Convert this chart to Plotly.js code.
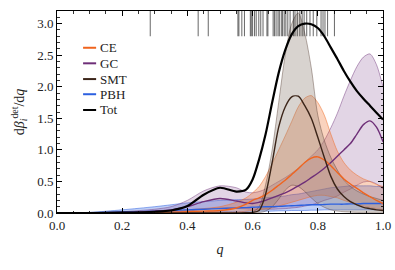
<!DOCTYPE html>
<html>
<head>
<meta charset="utf-8">
<script src="https://cdn.plot.ly/plotly-3.0.1.min.js"></script>
<style>html,body{margin:0;padding:0;background:#fff;}#chart{width:395px;height:270px;}</style>
</head>
<body>
<div id="chart"></div>
<script>
// ---- data ----
var qGrid = [0, 0.1, 0.2, 0.3, 0.35, 0.4, 0.45, 0.5, 0.55, 0.58, 0.6, 0.62, 0.64, 0.66, 0.68, 0.7, 0.72, 0.74, 0.76, 0.78, 0.8, 0.82, 0.84, 0.86, 0.88, 0.9, 0.92, 0.94, 0.96, 0.98, 1.0];

var totMed = [0, 0, 0.005, 0.02, 0.04, 0.11, 0.29, 0.40, 0.34, 0.37, 0.53, 0.85, 1.25, 1.75, 2.22, 2.58, 2.83, 2.96, 3.0, 2.99, 2.93, 2.8, 2.62, 2.44, 2.25, 2.08, 1.93, 1.81, 1.7, 1.59, 1.48];

var smtMed = [0, 0, 0, 0, 0, 0, 0, 0, 0, 0.005, 0.01, 0.04, 0.3, 0.8, 1.36, 1.68, 1.84, 1.85, 1.7, 1.5, 1.2, 0.88, 0.58, 0.38, 0.26, 0.18, 0.13, 0.09, 0.07, 0.05, 0.04];
var smtHi  = [0, 0, 0, 0, 0, 0, 0, 0, 0, 0.01, 0.02, 0.1, 0.45, 1.0, 1.75, 2.5, 3.0, 3.17, 2.85, 2.3, 1.55, 1.15, 0.88, 0.68, 0.52, 0.42, 0.35, 0.3, 0.26, 0.23, 0.2];
var smtLo  = [0, 0, 0, 0, 0, 0, 0, 0, 0, 0, 0, 0.005, 0.03, 0.1, 0.22, 0.36, 0.44, 0.42, 0.34, 0.24, 0.15, 0.09, 0.05, 0.03, 0.02, 0.015, 0.01, 0.01, 0.01, 0.01, 0.01];

var ceMed = [0, 0, 0, 0.01, 0.01, 0.02, 0.03, 0.04, 0.08, 0.14, 0.2, 0.24, 0.29, 0.36, 0.44, 0.52, 0.61, 0.7, 0.8, 0.87, 0.89, 0.84, 0.75, 0.64, 0.54, 0.46, 0.39, 0.32, 0.26, 0.2, 0.15];
var ceHi  = [0, 0, 0.01, 0.02, 0.03, 0.05, 0.07, 0.1, 0.17, 0.24, 0.32, 0.42, 0.58, 0.78, 1.0, 1.22, 1.45, 1.68, 1.82, 1.86, 1.75, 1.55, 1.25, 0.98, 0.8, 0.68, 0.6, 0.54, 0.5, 0.45, 0.42];
var ceLo  = [0, 0, 0, 0, 0, 0, 0, 0, 0.01, 0.03, 0.04, 0.05, 0.07, 0.08, 0.11, 0.14, 0.17, 0.2, 0.23, 0.26, 0.28, 0.28, 0.26, 0.24, 0.2, 0.17, 0.14, 0.11, 0.09, 0.07, 0.05];

var gcMed = [0, 0, 0.01, 0.03, 0.05, 0.1, 0.18, 0.23, 0.19, 0.16, 0.15, 0.17, 0.2, 0.24, 0.28, 0.32, 0.37, 0.43, 0.49, 0.56, 0.63, 0.71, 0.8, 0.9, 1.0, 1.1, 1.25, 1.4, 1.46, 1.36, 1.13];
var gcHi  = [0, 0.005, 0.02, 0.06, 0.1, 0.2, 0.35, 0.43, 0.4, 0.33, 0.32, 0.34, 0.38, 0.44, 0.5, 0.56, 0.63, 0.71, 0.8, 0.9, 1.0, 1.15, 1.35, 1.58, 1.85, 2.1, 2.32, 2.47, 2.52, 2.35, 2.0];
var gcLo  = [0, 0, 0, 0.01, 0.02, 0.03, 0.06, 0.08, 0.07, 0.065, 0.06, 0.06, 0.06, 0.06, 0.065, 0.07, 0.08, 0.09, 0.11, 0.13, 0.16, 0.2, 0.23, 0.27, 0.33, 0.38, 0.44, 0.49, 0.5, 0.46, 0.38];

var pbhMed = [0, 0.002, 0.015, 0.03, 0.04, 0.05, 0.06, 0.07, 0.08, 0.085, 0.09, 0.095, 0.1, 0.1, 0.105, 0.11, 0.115, 0.12, 0.125, 0.13, 0.13, 0.135, 0.14, 0.14, 0.14, 0.145, 0.145, 0.15, 0.15, 0.15, 0.15];
var pbhHi  = [0, 0.01, 0.05, 0.1, 0.13, 0.16, 0.18, 0.2, 0.21, 0.215, 0.22, 0.23, 0.24, 0.25, 0.26, 0.27, 0.29, 0.3, 0.32, 0.34, 0.36, 0.38, 0.4, 0.41, 0.42, 0.43, 0.43, 0.43, 0.43, 0.42, 0.42];
var pbhLo  = [0, 0, 0.005, 0.01, 0.01, 0.015, 0.02, 0.02, 0.025, 0.025, 0.03, 0.03, 0.03, 0.03, 0.035, 0.035, 0.04, 0.04, 0.04, 0.045, 0.045, 0.05, 0.05, 0.05, 0.05, 0.05, 0.05, 0.05, 0.05, 0.05, 0.05];

// observed events (rug at top)
var rugQ = [0.286, 0.433, 0.464, 0.555, 0.558, 0.567, 0.575, 0.593, 0.596, 0.600, 0.606, 0.611, 0.619, 0.625, 0.632, 0.644, 0.647, 0.663, 0.667, 0.672, 0.678, 0.682, 0.688, 0.692, 0.697, 0.702, 0.708, 0.715, 0.725, 0.730, 0.737, 0.745, 0.752, 0.758, 0.766, 0.776, 0.786, 0.797, 0.810, 0.816, 0.822, 0.830, 0.851];
var rugTop = 3.2, rugBottom = 2.8;

var seriesNames = ['CE', 'GC', 'SMT', 'PBH', 'Tot'];
var xTickVals = [0, 0.2, 0.4, 0.6, 0.8, 1.0];
var yTickVals = [0, 0.5, 1.0, 1.5, 2.0, 2.5, 3.0];

// ---- styles ----
var col = {
  CE:  {line: '#f0641e', fill: 'rgba(240,110,40,0.30)', edge: 'rgba(240,110,40,0.75)'},
  GC:  {line: '#6e2f78', fill: 'rgba(125,65,135,0.22)', edge: 'rgba(110,50,120,0.65)'},
  SMT: {line: '#3b2418', fill: 'rgba(140,125,115,0.34)', edge: 'rgba(70,45,35,0.55)'},
  PBH: {line: '#2c60e0', fill: 'rgba(60,110,230,0.32)', edge: 'rgba(45,95,225,0.75)'},
  Tot: {line: '#000000'}
};

function band(name, lo, hi) {
  return [
    {x: qGrid, y: lo, type: 'scatter', mode: 'lines', showlegend: false, hoverinfo: 'skip',
     line: {color: col[name].edge, width: 0.7, shape: 'spline', smoothing: 0.8}},
    {x: qGrid, y: hi, type: 'scatter', mode: 'lines', showlegend: false, hoverinfo: 'skip',
     fill: 'tonexty', fillcolor: col[name].fill,
     line: {color: col[name].edge, width: 0.7, shape: 'spline', smoothing: 0.8}}
  ];
}
function med(name, y, w) {
  return {x: qGrid, y: y, type: 'scatter', mode: 'lines', name: name, showlegend: false,
          line: {color: col[name].line, width: w, shape: 'spline', smoothing: 0.8}};
}

var rugX = [], rugY = [];
rugQ.forEach(function (v) { rugX.push(v, v, null); rugY.push(rugTop, rugBottom, null); });

var traces = []
  .concat(band('PBH', pbhLo, pbhHi))
  .concat(band('GC', gcLo, gcHi))
  .concat(band('CE', ceLo, ceHi))
  .concat(band('SMT', smtLo, smtHi))
  .concat([
    med('PBH', pbhMed, 1.4),
    med('GC', gcMed, 1.4),
    med('CE', ceMed, 1.4),
    med('SMT', smtMed, 1.4),
    med('Tot', totMed, 2.2),
    {x: rugX, y: rugY, type: 'scatter', mode: 'lines', showlegend: false, hoverinfo: 'skip',
     line: {color: 'rgba(0,0,0,0.6)', width: 1}}
  ]);

// manual legend (short line samples like the reference)
var legY = [0.818, 0.741, 0.663, 0.588, 0.51];
var shapes = [], annotations = [];
seriesNames.forEach(function (n, i) {
  shapes.push({type: 'line', xref: 'paper', yref: 'paper', x0: 0.08, x1: 0.12, y0: legY[i], y1: legY[i],
               line: {color: col[n].line, width: 2}});
  annotations.push({xref: 'paper', yref: 'paper', x: 0.127, y: legY[i], xanchor: 'left', yanchor: 'middle',
                    text: n, showarrow: false, font: {size: 13, color: '#222'}});
});

var axisCommon = {
  showline: true, linecolor: '#000', linewidth: 1, mirror: 'ticks',
  ticks: 'inside', ticklen: 5, tickwidth: 1, tickcolor: '#000',
  showgrid: false, zeroline: false,
  tickfont: {size: 13, color: '#222'}
};

var layout = {
  width: 395, height: 270,
  margin: {l: 57, r: 12, t: 11, b: 57},
  paper_bgcolor: '#fff', plot_bgcolor: '#fff',
  font: {family: '"Liberation Serif", "DejaVu Serif", serif', size: 13, color: '#222'},
  showlegend: false,
  xaxis: Object.assign({}, axisCommon, {
    range: [0, 1], tickvals: xTickVals, tickformat: '.1f',
    minor: {dtick: 0.05, ticks: 'inside', ticklen: 2.5, tickcolor: '#000', tickwidth: 0.8},
    title: {text: '<i>q</i>', font: {size: 14, color: '#222'}, standoff: 12}
  }),
  yaxis: Object.assign({}, axisCommon, {
    range: [0, 3.2], tickvals: yTickVals, tickformat: '.1f',
    minor: {dtick: 0.1, ticks: 'inside', ticklen: 2.5, tickcolor: '#000', tickwidth: 0.8},
    title: {text: 'd<i>β</i><sub><i>i</i></sub><sup>det</sup>/d<i>q</i>', font: {size: 14, color: '#222'}, standoff: 9}
  }),
  shapes: shapes,
  annotations: annotations
};

Plotly.newPlot('chart', traces, layout, {displayModeBar: false, staticPlot: true});
</script>
</body>
</html>
